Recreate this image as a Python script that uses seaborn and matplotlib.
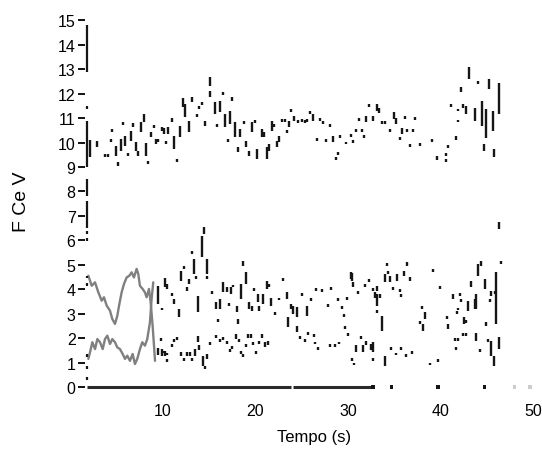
import matplotlib
matplotlib.use("Agg")
import matplotlib.pyplot as plt
import numpy as np
import pandas as pd
import seaborn as sns

# ---------------- data ----------------
# upper band (short vertical dashes): time, lower F, upper F
upper_t = [2.1, 2.83, 3.73, 4.02, 4.38, 4.45, 4.88, 5.10, 5.42, 5.64, 5.89, 6.18, 6.50, 6.79, 7.05, 7.33, 7.59, 7.95,
           8.16, 8.41, 8.67, 9.03, 9.24, 9.49, 9.86, 10.1, 10.3, 10.57, 10.94, 11.22, 11.48, 11.84, 12.13, 12.38, 12.81,
           13.17, 13.64, 13.89, 14.17, 14.54, 15.08, 15.08, 15.62, 15.87, 16.15, 16.44, 16.70, 17.06, 17.24, 17.50,
           17.78, 18.14, 18.32, 18.75, 18.97, 19.26, 19.59, 19.95, 20.20, 20.67, 20.92, 21.20, 21.50, 21.75, 22.00,
           22.30, 22.54, 22.90, 23.20, 23.37, 23.62, 23.90, 24.20, 24.60, 25.00, 25.35, 25.60, 25.90, 26.20, 26.70,
           27.00, 27.35, 27.60, 28.05, 28.35, 28.67, 28.96, 29.20, 29.75, 30.30, 30.58, 30.83, 31.20, 31.50, 31.70,
           32.00, 32.30, 32.67, 33.10, 33.40, 33.65, 34.00, 34.55, 35.00, 35.25, 35.60, 35.86, 36.16, 36.40, 36.70,
           37.00, 37.25, 37.80, 39.15, 39.66, 40.60, 40.60, 40.85, 41.15, 41.68, 41.90, 41.90, 42.20, 42.50, 42.75,
           43.10, 43.75, 44.10, 44.50, 44.75, 44.96, 45.30, 45.65, 45.80, 46.30]
upper_lo = [9.40, 9.80, 9.43, 9.40, 10.03, 10.42, 9.43, 9.05, 9.67, 10.72, 9.84, 9.46, 10.07, 10.62, 9.67, 9.46, 10.42,
            10.85, 9.46, 9.16, 10.21, 10.62, 9.94, 10.01, 10.48, 10.35, 9.98, 10.35, 10.85, 9.73, 9.19, 10.21, 11.44,
            11.03, 10.42, 11.64, 11.03, 11.37, 11.55, 10.69, 12.32, 11.85, 11.17, 10.65, 11.23, 11.95, 10.62, 10.01,
            10.76, 11.71, 10.21, 9.60, 10.21, 10.76, 9.80, 9.46, 10.42, 10.83, 9.33, 10.21, 10.21, 9.33, 9.67, 10.48,
            10.65, 9.80, 10.01, 10.83, 10.86, 10.42, 10.62, 11.26, 10.89, 10.82, 10.86, 10.82, 10.85, 11.17, 10.89,
            10.10, 10.93, 10.77, 10.04, 10.67, 10.01, 9.32, 9.52, 10.22, 9.95, 10.25, 10.02, 10.47, 10.92, 10.45,
            10.22, 10.83, 11.47, 10.89, 11.30, 11.22, 10.77, 10.77, 10.41, 10.96, 10.75, 10.12, 10.35, 10.96, 10.47,
            9.80, 10.47, 10.97, 9.87, 10.07, 9.30, 9.47, 9.25, 9.82, 11.47, 10.10, 10.85, 11.30, 12.05, 11.43, 11.17,
            12.60, 10.89, 12.40, 10.69, 9.67, 10.20, 12.18, 10.48, 9.39, 11.16]
upper_hi = [10.10, 10.07, 9.53, 9.50, 10.14, 10.55, 9.84, 9.22, 10.14, 10.80, 10.25, 9.53, 10.48, 10.80, 10.01, 9.67,
            10.83, 11.17, 9.98, 9.22, 10.42, 10.69, 10.14, 10.14, 10.62, 10.58, 10.03, 10.62, 10.99, 10.28, 9.33, 10.69,
            11.81, 11.57, 10.89, 11.85, 11.17, 11.50, 11.65, 10.89, 12.67, 12.12, 11.64, 10.72, 11.71, 12.05, 11.17,
            10.14, 11.30, 11.85, 10.83, 9.80, 10.55, 10.84, 10.07, 9.67, 10.83, 10.89, 9.73, 10.55, 10.42, 9.80, 9.94,
            10.89, 10.72, 10.07, 10.28, 10.96, 10.94, 10.48, 10.89, 11.34, 11.10, 10.88, 10.94, 10.88, 10.98, 11.30,
            11.17, 10.17, 10.99, 10.83, 10.10, 10.73, 10.28, 9.38, 9.58, 10.28, 10.01, 10.35, 10.08, 10.53, 10.98,
            10.55, 10.28, 11.10, 11.53, 11.10, 11.57, 11.43, 10.83, 10.83, 10.55, 11.23, 11.00, 10.18, 10.60, 11.10,
            10.53, 9.94, 10.53, 11.03, 9.93, 10.13, 9.44, 9.53, 9.31, 9.88, 11.53, 10.25, 10.91, 11.36, 12.25, 11.57,
            11.50, 13.07, 11.43, 12.50, 11.71, 9.94, 11.36, 12.60, 11.30, 9.73, 12.45]

# lower band (short vertical dashes)
lower_t = [9.49, 9.86, 10.22, 9.78, 9.49, 9.97, 10.47, 10.47, 10.94, 11.20, 11.78, 12.00, 12.26, 12.55, 12.85, 13.10,
           13.39, 13.57, 13.82, 14.18, 14.47, 14.79, 14.79, 15.26, 15.73, 15.98, 16.16, 16.52, 16.88, 17.17, 17.35,
           17.60, 17.96, 18.14, 18.39, 18.68, 18.97, 19.30, 19.59, 19.87, 20.24, 20.42, 20.85, 21.20,
           9.91, 10.22, 10.47, 10.94, 11.20, 11.47, 12.00, 12.26, 12.55, 12.90, 13.14, 13.46, 13.82, 13.93, 14.29,
           14.54, 14.79, 15.08, 15.73, 16.16, 16.52, 16.88, 17.24, 17.42, 17.90, 18.25, 18.43, 18.61, 18.97, 19.23,
           19.48, 19.77, 20.05, 20.38, 20.67, 21.03, 21.40,
           21.46, 21.68, 22.11, 22.54, 23.00, 23.37, 23.55, 23.84, 24.10, 24.45, 24.45, 24.81, 25.06, 25.35, 25.60,
           25.70, 26.06, 26.36, 26.43, 26.60, 26.79, 27.15, 27.87, 28.05, 28.23, 28.60, 28.96, 29.03, 29.39, 29.60,
           29.68, 29.86, 30.04, 30.30, 30.45, 30.56, 30.40, 30.67, 30.93, 31.11, 31.40, 31.65, 31.83, 32.00, 32.27,
           32.50, 32.77,
           32.90, 33.10, 33.10, 33.46, 33.10, 33.99, 34.30, 34.18, 34.54, 34.83, 35.33, 35.62, 35.80, 36.09, 36.41,
           36.70, 33.64, 32.74, 32.74, 33.99, 34.70, 35.26, 35.80, 36.34, 36.95, 39.23, 39.95, 38.07, 38.32, 37.78,
           38.14, 38.87, 39.77, 40.67, 40.85, 41.38, 42.10, 41.80, 41.90, 42.28, 41.56, 41.92, 42.46, 42.82, 41.74,
           42.53, 42.82, 43.00, 43.36, 43.72, 43.90, 44.08, 44.44, 44.80, 45.33, 44.98, 45.15, 44.26, 43.90, 45.51,
           45.87, 46.05, 45.51, 45.80, 46.34, 46.59, 46.34]
lower_lo = [3.39, 3.16, 4.10, 1.93, 1.30, 1.40, 1.32, 4.00, 3.77, 3.40, 2.85, 4.35, 4.87, 3.94, 4.21, 5.44, 4.62, 4.45,
            3.06, 5.30, 6.26, 4.62, 4.45, 3.83, 3.19, 2.68, 3.19, 3.87, 3.87, 3.36, 3.80, 4.08, 3.06, 2.58, 3.60, 4.96,
            4.21, 3.19, 3.10, 3.95, 3.46, 3.10, 3.39, 4.00,
            1.28, 1.28, 1.04, 1.67, 1.87, 1.97, 1.28, 1.11, 1.28, 1.28, 1.11, 1.28, 1.83, 1.50, 0.87, 0.77, 1.14, 1.73,
            2.04, 1.83, 1.97, 1.80, 1.46, 1.60, 1.96, 1.85, 1.39, 1.25, 1.63, 2.00, 2.00, 1.70, 1.39, 1.76, 2.00, 1.63,
            1.70,
            4.07, 3.33, 2.97, 3.57, 4.38, 3.60, 2.44, 3.19, 3.00, 2.85, 2.24, 2.00, 3.77, 1.87, 2.92, 2.15, 3.54, 2.07,
            1.77, 3.94, 1.53, 3.91, 3.30, 1.67, 3.98, 1.67, 3.54, 1.77, 3.23, 2.89, 2.41, 3.57, 2.10, 4.41, 4.35, 4.07,
            1.11, 0.91, 1.42, 3.84, 2.00, 1.42, 4.11, 1.70, 4.32, 1.50, 3.95,
            3.66, 3.94, 3.33, 3.65, 3.07, 4.28, 4.65, 4.97, 4.28, 3.98, 4.35, 3.87, 3.71, 4.55, 4.96, 4.35, 2.30, 1.42,
            1.11, 0.87, 1.53, 1.32, 1.53, 1.25, 1.39, 4.73, 4.04, 3.23, 2.78, 2.58, 2.30, 0.91, 1.04, 2.82, 2.37, 3.60,
            3.77, 3.03, 3.16, 3.50, 1.93, 1.90, 2.10, 2.10, 1.53, 2.58, 2.60, 3.12, 4.07, 3.19, 3.19, 4.55, 4.96, 4.01,
            3.46, 2.51, 1.87, 1.46, 1.90, 3.74, 3.80, 2.58, 1.28, 0.87, 1.56, 5.04, 6.46]
lower_hi = [4.14, 3.22, 4.45, 1.99, 1.58, 1.46, 1.38, 4.21, 3.83, 3.60, 3.19, 4.76, 4.93, 4.07, 4.41, 5.57, 5.24, 4.51,
            3.74, 6.19, 6.53, 5.24, 4.51, 3.89, 3.46, 2.74, 3.60, 4.28, 4.07, 3.42, 4.07, 4.18, 3.33, 2.78, 4.21, 5.16,
            4.69, 3.46, 3.33, 4.05, 3.80, 3.30, 3.80, 4.35,
            1.56, 1.49, 1.10, 1.73, 1.93, 2.03, 1.45, 1.17, 1.45, 1.45, 1.17, 1.56, 2.10, 1.70, 1.28, 0.83, 1.35, 1.79,
            2.10, 1.96, 2.03, 1.86, 1.52, 1.66, 2.15, 1.98, 1.45, 1.31, 1.76, 2.15, 2.15, 1.83, 1.45, 1.90, 2.15, 1.83,
            1.90,
            4.21, 3.66, 3.03, 3.63, 4.44, 3.87, 2.85, 3.39, 3.33, 3.26, 2.50, 2.06, 3.83, 1.93, 3.33, 2.25, 3.60, 2.13,
            1.83, 4.00, 1.59, 3.97, 3.36, 1.73, 4.04, 1.73, 3.60, 1.83, 3.29, 2.95, 2.47, 3.65, 2.16, 4.70, 4.65, 4.28,
            1.17, 0.97, 1.70, 3.90, 2.06, 1.70, 4.17, 1.90, 4.38, 1.75, 4.05,
            3.87, 4.14, 3.80, 3.80, 3.13, 4.62, 4.75, 5.03, 4.55, 4.04, 4.62, 4.01, 3.77, 4.76, 5.10, 4.48, 2.92, 1.83,
            1.17, 1.28, 1.59, 1.38, 1.59, 1.31, 1.45, 4.79, 4.10, 3.29, 3.06, 2.71, 2.58, 0.97, 1.10, 2.88, 2.58, 3.80,
            3.83, 3.09, 3.22, 3.60, 1.99, 2.00, 2.20, 2.20, 1.59, 2.85, 2.75, 3.53, 4.35, 3.60, 3.80, 5.03, 5.16, 4.41,
            3.60, 2.64, 1.93, 1.52, 2.20, 3.94, 3.90, 4.69, 1.90, 1.28, 2.03, 5.16, 6.73]

# dashes in the leftmost column (t ~ 1.8 s)
edge_lo = [12.9, 11.4, 9.0, 7.8, 6.5, 6.25, 6.0, 4.45, 4.15, 1.25, 0.75, 0.30]
edge_hi = [14.8, 11.5, 10.9, 8.5, 7.6, 6.35, 6.1, 4.55, 4.25, 1.35, 0.85, 0.40]
edge_t = 1.8

# two grey formant-like tracks (0-9 s)
track1_t = [1.93, 2.29, 2.65, 3.01, 3.37, 3.62, 3.91, 4.27, 4.52, 4.81, 5.06, 5.28, 5.53, 5.78, 6.07, 6.36, 6.61,
            6.86, 7.15, 7.33, 7.51, 7.80, 8.05, 8.23, 8.49, 8.67, 8.88, 9.03, 9.14]
track1_f = [4.55, 4.14, 4.28, 3.87, 3.53, 3.67, 3.33, 3.12, 2.78, 2.58, 2.91, 3.39, 3.87, 4.21, 4.48, 4.55, 4.69,
            4.48, 4.83, 4.62, 4.14, 4.01, 3.87, 3.67, 4.01, 3.46, 2.51, 1.69, 1.07]
track2_t = [1.93, 2.11, 2.36, 2.65, 2.90, 3.19, 3.48, 3.73, 3.98, 4.27, 4.52, 4.81, 5.06, 5.35, 5.64, 5.89, 6.14,
            6.43, 6.72, 6.97, 7.22, 7.51, 7.76, 8.05, 8.30, 8.59, 8.77, 8.95]
track2_f = [1.15, 1.42, 1.83, 1.55, 1.96, 1.83, 1.55, 1.96, 2.10, 1.76, 1.96, 1.83, 1.62, 1.55, 1.35, 1.15, 1.28,
            1.07, 1.35, 0.94, 1.15, 1.55, 1.83, 1.69, 1.96, 2.64, 3.60, 4.28]

# F = 0 baseline segments and isolated zero points
base_start = [1.8, 24.1]
base_end = [23.9, 32.8]
zero_t_dark = [32.74, 34.7, 39.77, 44.8]
zero_t_light = [48.0, 49.7]

x_ticks = [10, 20, 30, 40, 50]
y_ticks = list(range(0, 16))

# ---------------- plot ----------------
sns.set_theme(style="white")
plt.rcParams["font.family"] = ["Liberation Sans", "DejaVu Sans"]

fig = plt.figure(figsize=(5.42, 4.52), dpi=100)
ax = fig.add_axes([0.1574, 0.1254, 0.8426, 0.8546])

ink = "#161616"


def dashes(t, lo, hi, lw=1.7, color=ink):
    t = np.asarray(t, float)
    lo = np.asarray(lo, float)
    hi = np.asarray(hi, float)
    mid = (lo + hi) / 2
    half = np.maximum((hi - lo) / 2, 0.06)
    ax.vlines(t, mid - half, mid + half, colors=color, linewidth=lw, zorder=3)


# grey tracks with seaborn
tracks = pd.concat([
    pd.DataFrame({"t": track1_t, "F": track1_f, "track": "F1"}),
    pd.DataFrame({"t": track2_t, "F": track2_f, "track": "F2"}),
])
sns.lineplot(data=tracks, x="t", y="F", units="track", estimator=None, sort=False,
             color="#808080", linewidth=1.7, ax=ax, zorder=2)

dashes(upper_t, upper_lo, upper_hi)
dashes(lower_t, lower_lo, lower_hi)
dashes([edge_t] * len(edge_lo), edge_lo, edge_hi, lw=1.6)

ax.hlines([0] * len(base_start), base_start, base_end, colors="#2a2a2a", linewidth=2.2, zorder=3)
sns.scatterplot(x=zero_t_dark, y=[0] * len(zero_t_dark), marker="s", s=6, color=ink,
                edgecolor="none", ax=ax, zorder=3)
sns.scatterplot(x=zero_t_light, y=[0] * len(zero_t_light), marker="s", s=5, color="#cccccc",
                edgecolor="none", ax=ax, zorder=3)

ax.set_xlim(1.6, 51.0)
ax.set_ylim(-0.3, 15.5)
for s in ax.spines.values():
    s.set_visible(False)

ax.set_xticks(x_ticks)
ax.set_yticks(y_ticks)
ax.tick_params(axis="x", length=0, pad=6, labelsize=11.5, colors="black")
ax.tick_params(axis="y", left=True, length=5, width=1.3, pad=2, labelsize=11.5, colors="black")

ax.set_xlabel("Tempo (s)", fontsize=12, labelpad=8, color="black")
ax.set_ylabel("F Ce V", fontsize=14, labelpad=20, color="black")
ax.grid(False)

fig.savefig("out.png", dpi=100, facecolor="white")
